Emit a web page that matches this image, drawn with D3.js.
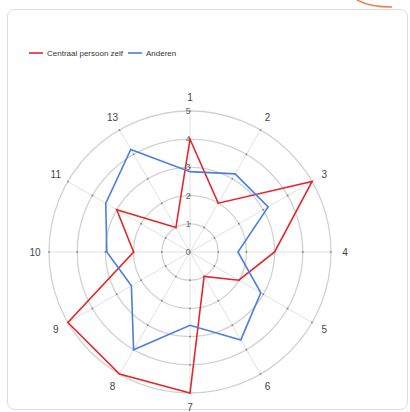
<!DOCTYPE html>
<html>
<head>
<meta charset="utf-8">
<script src="https://cdnjs.cloudflare.com/ajax/libs/d3/7.8.5/d3.min.js"></script>
<style>
  body { margin: 0; background: #fff; }
  text { font-family: "Liberation Sans", Arial, sans-serif; }
</style>
</head>
<body>
<script>
// data
var axisLabels = ["1", "2", "3", "4", "5", "6", "7", "8", "9", "10", "11", "13"];
var seriesNames = ["Centraal persoon zelf", "Anderen"];
var seriesColors = ["#e5262b", "#4a7ee0"];
var zelf = [4, 2, 5, 3, 2, 1, 5, 5, 5, 2, 3, 1];
var anderen = [2.85, 3.2, 3.2, 1.7, 2.9, 3.6, 2.6, 4, 2.4, 2.95, 3.45, 4.2];
var tickValues = [0, 1, 2, 3, 4, 5];

var width = 410, height = 412;
var cx = 190, cy = 252, R = 141;

var svg = d3.select("body")
            .append("svg")
            .attr("width", width)
            .attr("height", height);

// decorative arc top right
svg.append("path")
    .attr("d", "M357,0 Q370,7 392,7")
    .attr("fill", "none")
    .attr("stroke", "#e9824a")
    .attr("stroke-width", 1.5);

// card
svg.append("rect")
    .attr("x", 7.5).attr("y", 9.5)
    .attr("width", 400).attr("height", 400)
    .attr("rx", 7)
    .attr("fill", "#fff")
    .attr("stroke", "#dcdcdc");

var r = d3.scaleLinear().domain([0, 5]).range([0, R]);
var angle = d3.scaleLinear().domain([0, axisLabels.length]).range([0, 2 * Math.PI]);

function px(i, v) { return cx + r(v) * Math.sin(angle(i)); }
function py(i, v) { return cy - r(v) * Math.cos(angle(i)); }

var g = svg.append("g");

// rings
g.selectAll(".ring")
    .data(tickValues.filter(d => d > 0))
    .enter().append("circle")
    .attr("cx", cx).attr("cy", cy)
    .attr("r", d => r(d))
    .attr("fill", "none")
    .attr("stroke", "rgba(0,0,0,0.18)")
    .attr("stroke-width", 1.3);

// spokes
g.selectAll(".spoke")
    .data(axisLabels)
    .enter().append("line")
    .attr("x1", cx).attr("y1", cy)
    .attr("x2", (d, i) => px(i, 5))
    .attr("y2", (d, i) => py(i, 5))
    .attr("stroke", "rgba(0,0,0,0.12)")
    .attr("stroke-width", 1);

// intersection dots
var dots = [];
axisLabels.forEach(function(a, i) {
  tickValues.slice(1).forEach(function(t) { dots.push([i, t]); });
});
g.selectAll(".dot")
    .data(dots)
    .enter().append("circle")
    .attr("cx", d => px(d[0], d[1]))
    .attr("cy", d => py(d[0], d[1]))
    .attr("r", 1)
    .attr("fill", "rgba(0,0,0,0.3)");

// axis labels
g.selectAll(".lab")
    .data(axisLabels)
    .enter().append("text")
    .attr("x", (d, i) => cx + (R + 14) * Math.sin(angle(i)))
    .attr("y", (d, i) => cy - (R + 14) * Math.cos(angle(i)))
    .attr("dy", "0.35em")
    .attr("text-anchor", "middle")
    .attr("font-size", 10)
    .attr("fill", "#444")
    .text(d => d);

// series
var line = d3.lineRadial()
    .angle((d, i) => angle(i))
    .radius(d => r(d))
    .curve(d3.curveLinearClosed);

g.selectAll(".series")
    .data([zelf, anderen])
    .enter().append("path")
    .attr("transform", "translate(" + cx + "," + cy + ")")
    .attr("d", line)
    .attr("fill", "none")
    .attr("stroke", (d, i) => seriesColors[i])
    .attr("stroke-width", 1.6)
    .attr("stroke-linejoin", "miter");

// tick labels
g.selectAll(".tick")
    .data(tickValues)
    .enter().append("text")
    .attr("x", cx - 2)
    .attr("y", d => cy - r(d))
    .attr("dy", "0.35em")
    .attr("text-anchor", "middle")
    .attr("font-size", 8.5)
    .attr("fill", "#666")
    .text(d => d);

// legend
var legendX = [29, 128];
var legend = svg.selectAll(".legend")
    .data(seriesNames)
    .enter().append("g")
    .attr("transform", (d, i) => "translate(" + legendX[i] + ",53)");

legend.append("line")
    .attr("x1", 0).attr("x2", 14)
    .attr("stroke", (d, i) => seriesColors[i])
    .attr("stroke-width", 1.6);

legend.append("text")
    .attr("x", 18)
    .attr("dy", "0.35em")
    .attr("font-size", 8)
    .attr("fill", "#333")
    .text(d => d);
</script>
</body>
</html>
